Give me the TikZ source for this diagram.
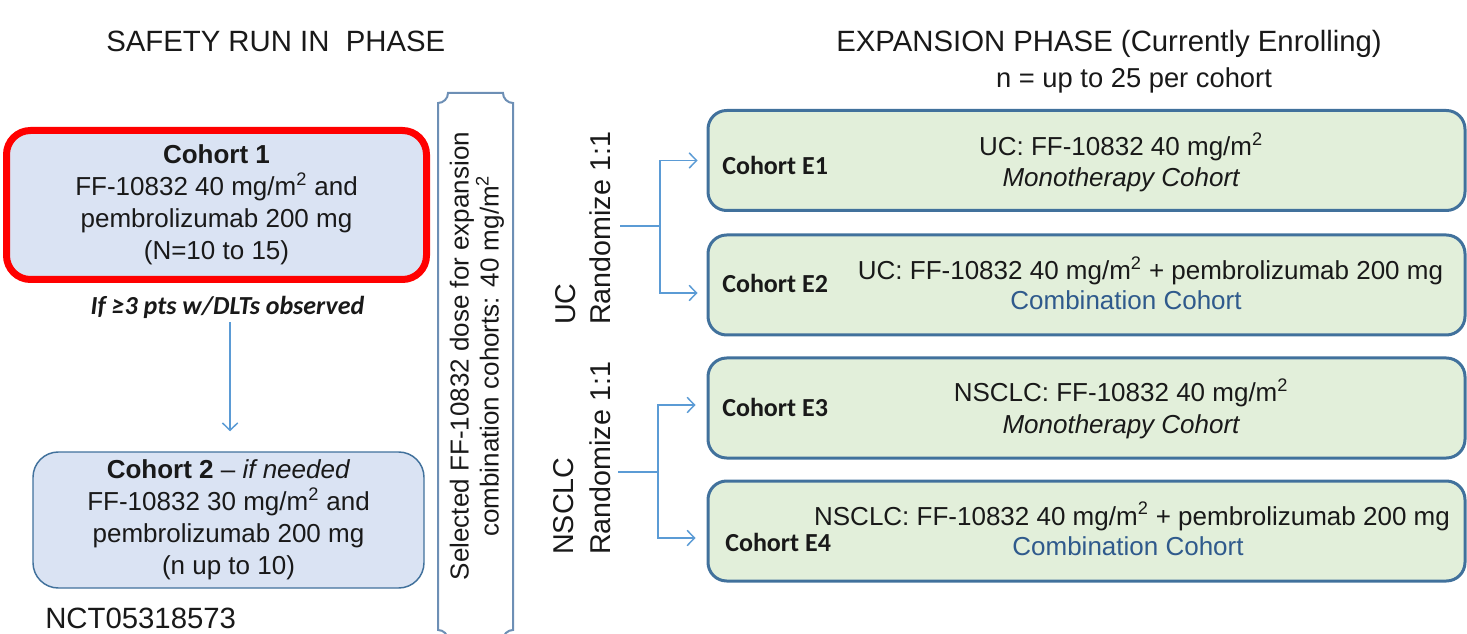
\documentclass[tikz,border=0pt]{standalone}
\usepackage{fontspec}
\usepackage{graphicx}
\setmainfont{Liberation Sans}
\newfontfamily\calibrifont{Carlito}
\usetikzlibrary{arrows.meta,calc}

\definecolor{boxblue}{RGB}{218,227,243}
\definecolor{boxgreen}{RGB}{226,239,218}
\definecolor{edgeblue}{RGB}{65,113,156}
\definecolor{linkblue}{RGB}{91,155,213}
\definecolor{bracketblue}{RGB}{109,143,181}
\definecolor{combo}{RGB}{47,90,140}
\definecolor{ink}{RGB}{25,25,25}

\begin{document}
\begin{tikzpicture}[x=0.75pt,y=-0.75pt,
  every node/.style={inner sep=0pt, text=ink},
  body/.style={font=\fontsize{19.5}{24}\selectfont, align=center},
  firstbox/.style={body, draw=red, line width=5.25pt, fill=boxblue,
    rounded corners=18pt, minimum width=315pt, minimum height=111.75pt},
  safetybox/.style={body, draw=edgeblue, line width=1.1pt, fill=boxblue,
    rounded corners=19pt, minimum width=293.25pt, minimum height=102pt},
  expbox/.style={draw=edgeblue, line width=2.25pt, fill=boxgreen,
    rounded corners=14pt, minimum width=567.75pt, minimum height=75pt},
  cohortid/.style={font=\calibrifont\bfseries\fontsize{19.5}{24}\selectfont, anchor=base west},
  arm/.style={font=\fontsize{19.5}{24}\selectfont, anchor=base},
  header/.style={font=\fontsize{22}{26}\selectfont, anchor=base west},
  sidelabel/.style={font=\fontsize{21.5}{26}\selectfont, rotate=90, anchor=base west},
  link/.style={draw=linkblue, line width=1.1pt},
  arr/.style={link, -{Straight Barb[length=5.5pt,width=11.5pt]}}
]
\useasboundingbox (0,0) rectangle (1467,634);

% ---- headings ----
\node[header] (hsafe) at (106,52) {SAFETY RUN IN~~PHASE};
\node[header] (hexp) at (836,52) {EXPANSION PHASE (Currently Enrolling)};
\node[font=\fontsize{20.5}{24}\selectfont, anchor=base] (hn) at (1134,88) {n = up to 25 per cohort};

% ---- safety run-in cohorts ----
\node[firstbox] (c1) at (216.5,205)
  {\textbf{Cohort 1}\\FF-10832 40 mg/m\textsuperscript{2} and\\pembrolizumab 200 mg\\(N=10 to 15)};
\node[font=\calibrifont\bfseries\itshape\fontsize{19.5}{24}\selectfont] (cond) at (227.5,307)
  {If ≥3 pts w/DLTs observed};
\node[safetybox] (c2) at (228.5,520)
  {\textbf{Cohort 2} – \textit{if needed}\\FF-10832 30 mg/m\textsuperscript{2} and\\pembrolizumab 200 mg\\(n up to 10)};
\draw[arr, shorten <=3pt, shorten >=15pt]
  ([xshift=1.9pt]cond.south) -- ([xshift=1.9pt]cond.south |- c2.north);
\node[header] (nct) at (45,628) {NCT05318573};

% ---- dose-selection bracket ----
\draw[bracketblue, line width=1.5pt]
  (438,103) .. controls (443.5,103) and (448,98.5) .. (448,93)
  -- (503,93) .. controls (503,98.5) and (507.5,103) .. (513,103)
  -- (513,630) .. controls (507.5,630) and (503,634.5) .. (503,640)
  -- (448,640) .. controls (448,634.5) and (443.5,630) .. (438,630)
  -- cycle;
\node[rotate=90, align=center, font=\fontsize{19.5}{22.5}\selectfont] (sel) at (477,356)
  {Selected FF-10832 dose for expansion\\combination cohorts: 40 mg/m\textsuperscript{2}};

% ---- randomisation labels ----
\node[sidelabel] (uc) at (575,325) {UC};
\node[sidelabel] (ucr) at (610,325) {Randomize 1:1};
\node[sidelabel] (ns) at (573,555) {NSCLC};
\node[sidelabel] (nsr) at (610,555) {Randomize 1:1};

% ---- expansion cohorts ----
\node[expbox] (e1) at (1086.5,160.5) {};
\node[expbox] (e2) at (1086.5,285) {};
\node[expbox] (e3) at (1086.5,408) {};
\node[expbox] (e4) at (1086.5,531) {};

\node[cohortid] (e1id) at (722,174.5) {Cohort E1};
\node[cohortid] (e2id) at (722,292.5) {Cohort E2};
\node[cohortid] (e3id) at (722,416.5) {Cohort E3};
\node[cohortid] (e4id) at (725,551.5) {Cohort E4};

\node[arm] (e1a) at (1121,155.5) {UC: FF-10832 40 mg/m\textsuperscript{2}};
\node[arm] (e1b) at (1121,186.5) {\itshape Monotherapy Cohort};
\node[arm] (e2a) at (1150.5,280) {UC: FF-10832 40 mg/m\textsuperscript{2} + pembrolizumab 200 mg};
\node[arm, text=combo] (e2b) at (1126,310) {Combination Cohort};
\node[arm] (e3a) at (1121,402) {NSCLC: FF-10832 40 mg/m\textsuperscript{2}};
\node[arm] (e3b) at (1121,434) {\itshape Monotherapy Cohort};
\node[arm] (e4a) at (1132,525) {NSCLC: FF-10832 40 mg/m\textsuperscript{2} + pembrolizumab 200 mg};
\node[arm, text=combo] (e4b) at (1128,555) {Combination Cohort};

% ---- randomisation forks ----
\coordinate (ucstem) at (620,226);
\coordinate (ucfork) at (660,226);
\draw[link] (ucstem) -- (ucfork);
\draw[arr, shorten >=6.75pt] (ucfork) |- (e1.west);
\draw[arr, shorten >=6.75pt] (ucfork) |- ([yshift=-6pt]e2.west);

\coordinate (nsstem) at (618,472);
\coordinate (nsfork) at (658,472);
\draw[link] (nsstem) -- (nsfork);
\draw[arr, shorten >=8.25pt] (nsfork) |- ([yshift=2.25pt]e3.west);
\draw[arr, shorten >=8.25pt] (nsfork) |- ([yshift=-5.25pt]e4.west);
\end{tikzpicture}
\end{document}
